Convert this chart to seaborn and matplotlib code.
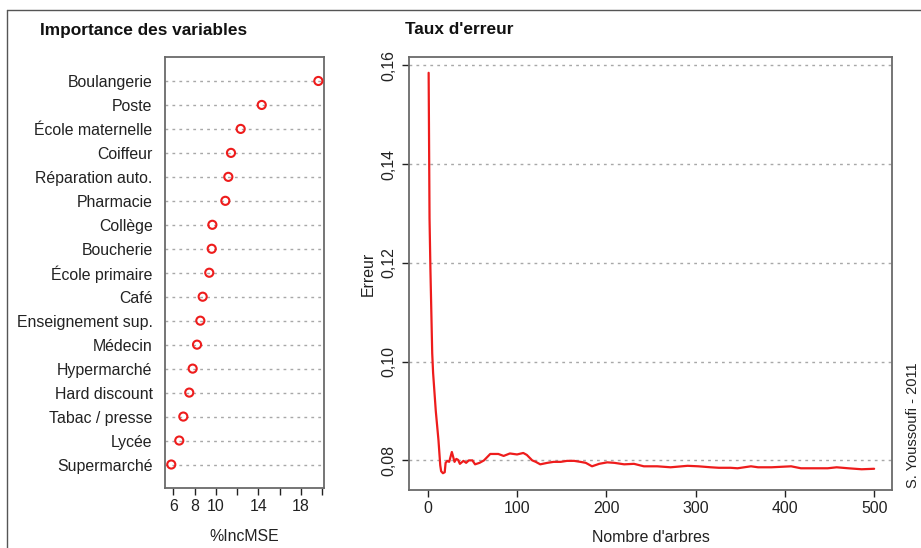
import matplotlib
matplotlib.use("Agg")
import matplotlib.pyplot as plt
from matplotlib.lines import Line2D
import seaborn as sns
import pandas as pd

# importance des variables (%IncMSE)
variables = ["Boulangerie", "Poste", "École maternelle", "Coiffeur", "Réparation auto.",
             "Pharmacie", "Collège", "Boucherie", "École primaire", "Café",
             "Enseignement sup.", "Médecin", "Hypermarché", "Hard discount",
             "Tabac / presse", "Lycée", "Supermarché"]
inc_mse = [19.63, 14.31, 12.33, 11.42, 11.17, 10.89, 9.67, 9.61, 9.38, 8.76,
           8.54, 8.23, 7.82, 7.50, 6.94, 6.56, 5.81]
imp_ticks = [6, 8, 10, 12, 14, 16, 18, 20]
imp_labels = ["6", "8", "10", "", "14", "", "18", ""]

# taux d'erreur selon le nombre d'arbres
trees = [1, 2, 3, 5, 6, 9, 12, 14, 15, 17, 19, 20, 22, 24, 27, 30, 32, 34, 36, 40,
         43, 46, 50, 53, 58, 63, 70, 75, 79, 85, 92, 100, 107, 111, 117, 121, 126,
         134, 141, 149, 156, 164, 171, 177, 184, 192, 201, 209, 220, 231, 242, 257,
         272, 291, 303, 317, 326, 339, 347, 362, 370, 385, 407, 418, 433, 448, 458,
         471, 486, 500]
erreur = [0.1585, 0.1290, 0.1186, 0.1017, 0.0977, 0.0900, 0.0841, 0.0790, 0.0778,
          0.0774, 0.0776, 0.0795, 0.0799, 0.0797, 0.0817, 0.0797, 0.0803, 0.0801,
          0.0793, 0.0799, 0.0795, 0.0800, 0.0800, 0.0792, 0.0795, 0.0800, 0.0813,
          0.0813, 0.0813, 0.0809, 0.0814, 0.0812, 0.0815, 0.0811, 0.0800, 0.0797,
          0.0792, 0.0795, 0.0797, 0.0797, 0.0799, 0.0799, 0.0797, 0.0795, 0.0788,
          0.0793, 0.0796, 0.0795, 0.0792, 0.0793, 0.0788, 0.0788, 0.0786, 0.0789,
          0.0788, 0.0786, 0.0785, 0.0785, 0.0784, 0.0788, 0.0786, 0.0786, 0.0788,
          0.0784, 0.0784, 0.0784, 0.0786, 0.0784, 0.0782, 0.0783]
err_ticks = [0.08, 0.10, 0.12, 0.14, 0.16]
tree_ticks = [0, 100, 200, 300, 400, 500]

sns.set_style("white")
plt.rcParams["font.family"] = ["Liberation Sans", "DejaVu Sans"]
plt.rcParams["font.size"] = 11.4

W, H = 921, 548
fig = plt.figure(figsize=(W / 100, H / 100), dpi=100)

red = "#ee1c1c"
spine_c = "#6a6a6a"
grid_c = "#a8a8a8"

# ---- left panel : dotchart
ax1 = fig.add_axes([165 / W, 60 / H, 159 / W, 431 / H])
df_imp = pd.DataFrame({"var": variables, "mse": inc_mse})
sns.scatterplot(data=df_imp, x="mse", y="var", ax=ax1, marker="o", s=34,
                facecolors="none", edgecolor=red, linewidth=1.5, zorder=3)
ax1.set_xlim(5.22, 20.16)
ax1.set_ylim(16.98, -1)
ax1.set_xticks(imp_ticks)
ax1.set_xticklabels(imp_labels)
ax1.yaxis.grid(True, linestyle=(0, (2, 3)), color=grid_c, linewidth=1)
ax1.set_ylabel("")
ax1.set_xlabel("%IncMSE", labelpad=11)
ax1.tick_params(axis="y", length=0, pad=9)
ax1.tick_params(axis="x", length=5, width=1, color=spine_c, pad=3, direction="out", bottom=True)

# ---- right panel : taux d'erreur
ax2 = fig.add_axes([409 / W, 58 / H, 483 / W, 433 / H])
df_err = pd.DataFrame({"trees": trees, "erreur": erreur})
sns.lineplot(data=df_err, x="trees", y="erreur", ax=ax2, color=red, linewidth=1.6)
ax2.set_xlim(-21, 520)
ax2.set_ylim(0.0740, 0.1617)
ax2.set_xticks(tree_ticks)
ax2.set_yticks(err_ticks)
ax2.set_yticklabels([f"{v:.2f}".replace(".", ",") for v in err_ticks],
                    rotation=90, va="center")
ax2.yaxis.grid(True, linestyle=(0, (2, 3)), color=grid_c, linewidth=1)
ax2.set_xlabel("Nombre d'arbres", labelpad=10)
ax2.set_ylabel("Erreur", labelpad=4)
ax2.tick_params(axis="x", length=5, width=1, color=spine_c, pad=3, direction="out", bottom=True)
ax2.tick_params(axis="y", length=5, width=1, color=spine_c, pad=4, direction="out", left=True)

for ax in (ax1, ax2):
    for sp in ax.spines.values():
        sp.set_color(spine_c)
        sp.set_linewidth(1.3)
    ax.tick_params(colors="#222222", labelcolor="#222222")
    ax.xaxis.label.set_color("#222222")
    ax.yaxis.label.set_color("#222222")

# titres
fig.text(40 / W, 1 - 30 / H, "Importance des variables", fontsize=12.4,
         fontweight="bold", va="center", ha="left", color="#111111")
fig.text(405 / W, 1 - 30 / H, "Taux d'erreur", fontsize=12.4,
         fontweight="bold", va="center", ha="left", color="#111111")

# source
fig.text(906 / W, 60 / H, "S. Youssoufi - 2011", rotation=90, fontsize=10.5,
         ha="left", va="bottom", color="#222222")

# cadre
fig.add_artist(Line2D([7 / W, 1], [1 - 10 / H, 1 - 10 / H], transform=fig.transFigure,
                      color="#555555", linewidth=1))
fig.add_artist(Line2D([7 / W, 7 / W], [0, 1 - 10 / H], transform=fig.transFigure,
                      color="#555555", linewidth=1))

fig.savefig("out.png", dpi=100)
